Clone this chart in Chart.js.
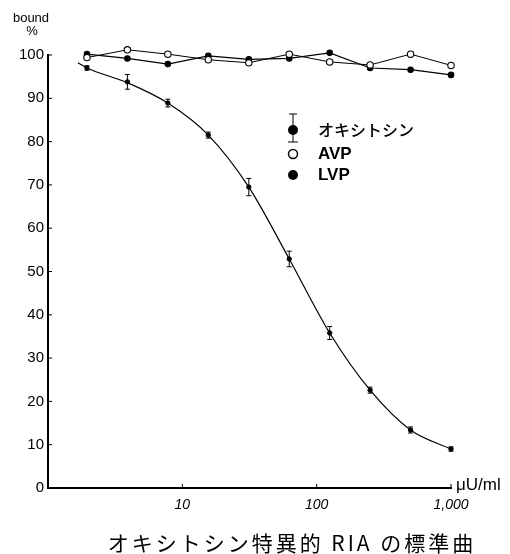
<!DOCTYPE html>
<html>
<head>
<meta charset="utf-8">
<script src="https://cdn.jsdelivr.net/npm/chart.js@4/dist/chart.umd.min.js"></script>
<style>
  html, body { margin: 0; padding: 0; background: #fff; }
</style>
</head>
<body>
<canvas id="chart" width="510" height="554"></canvas>
<script>
// dose (μU/ml), two-fold dilutions
const doses = [1.95, 3.9, 7.8, 15.6, 31.25, 62.5, 125, 250, 500, 1000];
const oxytocin = [97.0, 93.8, 88.9, 81.5, 69.5, 52.9, 35.8, 22.6, 13.4, 9.0];
const oxytocinErr = [0.5, 1.7, 0.9, 0.7, 2.0, 1.8, 1.5, 0.7, 0.7, 0.5];
const avp = [99.4, 101.2, 100.2, 98.9, 98.2, 100.2, 98.4, 97.7, 100.2, 97.6];
const lvp = [100.2, 99.2, 97.9, 99.8, 99.0, 99.2, 100.5, 97.0, 96.6, 95.4];
// fitted standard curve
const fitDoses = [1.67, 1.95, 3.9, 7.8, 15.6, 31.25, 62.5, 125, 250, 500, 1000];
const fitValues = [98.2, 97.0, 93.6, 88.9, 81.5, 69.5, 52.9, 35.8, 22.6, 13.4, 9.0];

const seriesNames = ['オキシトシン', 'AVP', 'LVP'];
const xTicks = [10, 100, 1000];
const xTickLabels = ['10', '100', '1,000'];
const yLabel = ['bound', '%'];
const xUnit = 'μU/ml';
const caption = 'オキシトシン特異的 RIA の標準曲';

const toPoints = (xs, ys) => xs.map((x, i) => ({ x, y: ys[i] }));

const decorations = {
    id: 'decorations',
    afterDatasetsDraw(chart) {
        const { ctx, scales: { x, y }, chartArea } = chart;
        ctx.save();
        ctx.strokeStyle = '#000';
        ctx.fillStyle = '#000';

        // error bars on oxytocin points
        ctx.lineWidth = 1;
        doses.forEach((d, i) => {
            const px = x.getPixelForValue(d);
            const top = y.getPixelForValue(oxytocin[i] + oxytocinErr[i]);
            const bot = y.getPixelForValue(oxytocin[i] - oxytocinErr[i]);
            ctx.beginPath();
            ctx.moveTo(px, top); ctx.lineTo(px, bot);
            ctx.moveTo(px - 2.5, top); ctx.lineTo(px + 2.5, top);
            ctx.moveTo(px - 2.5, bot); ctx.lineTo(px + 2.5, bot);
            ctx.stroke();
        });

        // inner tick marks
        ctx.lineWidth = 1;
        y.ticks.forEach(t => {
            const py = y.getPixelForValue(t.value);
            ctx.beginPath();
            ctx.moveTo(chartArea.left, py); ctx.lineTo(chartArea.left + 4, py);
            ctx.stroke();
        });
        xTicks.forEach(v => {
            const px = x.getPixelForValue(v);
            ctx.beginPath();
            ctx.moveTo(px, chartArea.bottom); ctx.lineTo(px, chartArea.bottom - 4);
            ctx.stroke();
        });

        // axis titles
        ctx.font = '13px "Liberation Sans", Arial, sans-serif';
        ctx.textAlign = 'center';
        ctx.textBaseline = 'middle';
        ctx.fillText(yLabel[0], 31, 18);
        ctx.fillText(yLabel[1], 32, 31);
        ctx.font = '17px "Liberation Sans", Arial, sans-serif';
        ctx.textAlign = 'left';
        ctx.fillText(xUnit, chartArea.right + 5, chartArea.bottom - 3);

        // legend
        const lx = 293, rows = [130, 154, 175], tx = 318;
        ctx.beginPath();
        ctx.arc(lx, rows[0], 5, 0, Math.PI * 2);
        ctx.fill();
        ctx.beginPath();
        ctx.moveTo(lx, rows[0] - 16); ctx.lineTo(lx, rows[0] + 12);
        ctx.moveTo(lx - 4, rows[0] - 16); ctx.lineTo(lx + 4, rows[0] - 16);
        ctx.moveTo(lx - 5, rows[0] + 12); ctx.lineTo(lx + 5, rows[0] + 12);
        ctx.stroke();
        ctx.lineWidth = 1.5;
        ctx.beginPath();
        ctx.arc(lx, rows[1], 4.5, 0, Math.PI * 2);
        ctx.stroke();
        ctx.beginPath();
        ctx.arc(lx, rows[2], 5, 0, Math.PI * 2);
        ctx.fill();
        ctx.font = '500 16px "Noto Sans CJK JP", sans-serif';
        ctx.fillText(seriesNames[0], tx, rows[0]);
        ctx.font = 'bold 17px "Liberation Sans", Arial, sans-serif';
        ctx.fillText(seriesNames[1], tx, rows[1]);
        ctx.fillText(seriesNames[2], tx, rows[2]);

        // caption
        ctx.font = '21px "Noto Sans CJK JP", serif';
        ctx.letterSpacing = '3px';
        ctx.textAlign = 'center';
        ctx.fillText(caption, 292, 543);
        ctx.restore();
    }
};

new Chart(document.getElementById('chart'), {
    type: 'line',
    data: {
        datasets: [
            {
                label: 'fit',
                data: toPoints(fitDoses, fitValues),
                borderColor: '#000',
                borderWidth: 1.2,
                pointRadius: 0,
                cubicInterpolationMode: 'monotone',
                clip: false
            },
            {
                label: seriesNames[0],
                data: toPoints(doses, oxytocin),
                showLine: false,
                pointRadius: 2.2,
                pointHoverRadius: 8,
                pointBackgroundColor: '#000',
                pointBorderColor: '#000',
                clip: false
            },
            {
                label: seriesNames[1],
                data: toPoints(doses, avp),
                borderColor: '#000',
                borderWidth: 1,
                tension: 0,
                pointRadius: 3.2,
                pointHoverRadius: 8,
                pointBorderWidth: 1.1,
                pointBackgroundColor: '#fff',
                pointBorderColor: '#000',
                clip: false
            },
            {
                label: seriesNames[2],
                data: toPoints(doses, lvp),
                borderColor: '#000',
                borderWidth: 1.2,
                tension: 0,
                pointRadius: 2.7,
                pointHoverRadius: 8,
                pointBackgroundColor: '#000',
                pointBorderColor: '#000',
                clip: false
            }
        ]
    },
    options: {
        responsive: false,
        animation: false,
        events: [],
        layout: { padding: { left: 0, right: 59, top: 55, bottom: 38 } },
        plugins: {
            legend: { display: false },
            tooltip: { enabled: false },
            title: { display: false }
        },
        scales: {
            x: {
                type: 'logarithmic',
                min: 1,
                max: 1000,
                afterBuildTicks: s => { s.ticks = xTicks.map(v => ({ value: v })); },
                afterFit: s => { s.height = 28; },
                grid: { display: false, drawTicks: false },
                border: { color: '#000', width: 2 },
                ticks: {
                    padding: 9,
                    color: '#000',
                    maxRotation: 0,
                    autoSkip: false,
                    font: { family: '"Liberation Sans", Arial, sans-serif', size: 14, style: 'italic' },
                    callback: (v) => xTickLabels[xTicks.indexOf(v)]
                }
            },
            y: {
                min: 0,
                max: 100,
                afterFit: s => { s.width = 48; },
                grid: { display: false, drawTicks: false },
                border: { color: '#000', width: 2 },
                ticks: {
                    stepSize: 10,
                    padding: 4,
                    color: '#000',
                    font: { family: '"Liberation Sans", Arial, sans-serif', size: 15 }
                }
            }
        }
    },
    plugins: [decorations]
});
</script>
</body>
</html>
